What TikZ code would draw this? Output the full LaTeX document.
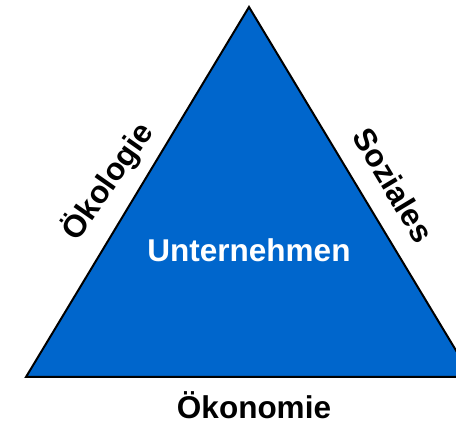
\documentclass[tikz,border=0pt]{standalone}
\usepackage{fontspec}
\setmainfont{Liberation Sans}
\definecolor{triblue}{RGB}{0,102,204}
\tikzset{
  lbl/.style={font=\fontsize{31.5}{36}\selectfont\bfseries, inner sep=0pt, anchor=base},
}
\begin{document}
\begin{tikzpicture}[x=1pt,y=-1pt]
\useasboundingbox (0,0) rectangle (456,427);
\begin{scope}
\clip (0,0) rectangle (456,427);
\coordinate (apex) at (249,7);
\coordinate (bl) at (26,377);
\coordinate (br) at (472,377);
\draw[fill=triblue, line width=2pt, line join=miter] (apex) -- (bl) -- (br) -- cycle;
\end{scope}
\node[lbl, text=white] (unt) at (249,262) {Unternehmen};
\node[lbl] (oeko) at (254,419) {Ökonomie};
\node[lbl, rotate=55] (oekol) at (116,187) {Ökologie};
\node[lbl, rotate=-59] (soz) at (384,191) {Soziales};
\end{tikzpicture}
\end{document}
